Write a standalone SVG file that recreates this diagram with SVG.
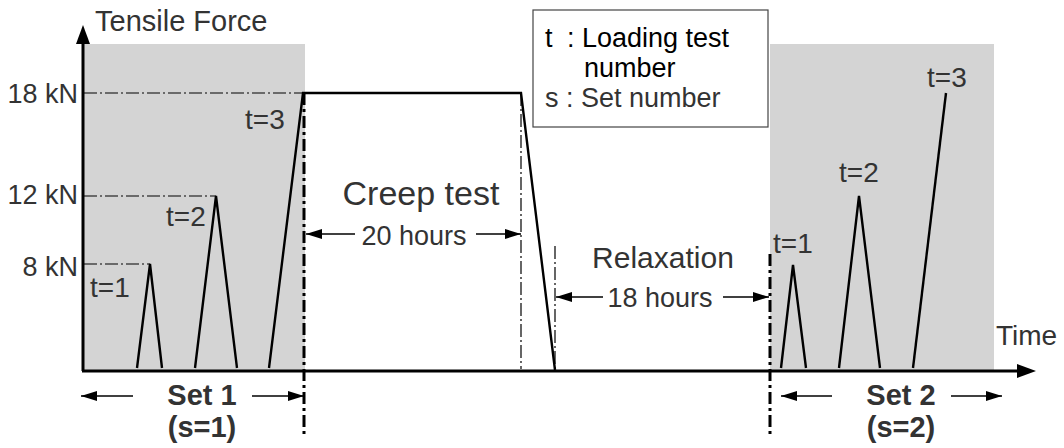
<svg xmlns="http://www.w3.org/2000/svg" width="1064" height="448" viewBox="0 0 1064 448">
<defs>
<style>
text{font-family:"Liberation Sans",Arial,sans-serif;fill:#333}
.lbl{font-size:27px}
.t{font-size:28px}
.b{font-weight:bold;font-size:29px}
.curve{fill:none;stroke:#000;stroke-width:2.4;stroke-linejoin:miter}
.thin{fill:none;stroke:#000;stroke-width:1.2;stroke-dasharray:13 3 2 3}
.thick{fill:none;stroke:#000;stroke-width:3;stroke-dasharray:12 4 3 4}
.dim{fill:none;stroke:#000;stroke-width:1.3}
.shade{fill:#d4d4d4}
</style>
<marker id="ah" viewBox="0 0 16 10" refX="16" refY="5" markerWidth="16" markerHeight="10" markerUnits="userSpaceOnUse" orient="auto-start-reverse">
<path d="M0,0 L16,5 L0,10 Z" fill="#000"/>
</marker>
</defs>
<rect width="1064" height="448" fill="#fff"/>
<g id="set1-area"><rect class="shade" x="84" y="44" width="221" height="327"/></g>
<g id="set2-area"><rect class="shade" x="770" y="44" width="224" height="327"/></g>
<g id="guides">
<line class="thin" x1="84" y1="93" x2="303" y2="93"/>
<line class="thin" x1="84" y1="196" x2="216" y2="196"/>
<line class="thin" x1="84" y1="264" x2="150" y2="264"/>
<line class="thin" x1="521" y1="93" x2="521" y2="369"/>
<line class="thin" x1="555" y1="246" x2="555" y2="369"/>
<line class="thick" x1="304" y1="93" x2="304" y2="438"/>
<line class="thick" x1="770" y1="254" x2="770" y2="438"/>
</g>
<g id="axes">
<line x1="83" y1="371" x2="83" y2="42" stroke="#000" stroke-width="3"/>
<path d="M76,44 L83,25 L90,44 Z" fill="#000"/>
<line x1="82" y1="371" x2="1019" y2="371" stroke="#000" stroke-width="3"/>
<path d="M1017,364 L1036,371 L1017,378 Z" fill="#000"/>
<text x="95" y="31" font-size="29">Tensile Force</text>
<text class="t" x="996" y="345">Time</text>
<text class="lbl" x="78" y="103" text-anchor="end">18 kN</text>
<text class="lbl" x="78" y="204" text-anchor="end">12 kN</text>
<text class="lbl" x="78" y="276" text-anchor="end">8 kN</text>
</g>
<g id="loading-curves">
<polyline class="curve" points="137,368 150,264 162,368"/>
<polyline class="curve" points="195,368 216,196 237,368"/>
<polyline class="curve" points="269,368 303,93 521,93 555,370"/>
<polyline class="curve" points="781,368 793,265 806,368"/>
<polyline class="curve" points="839,368 859,196 880,368"/>
<polyline class="curve" points="913,368 946,93"/>
</g>
<g id="t-labels">
<text class="t" x="90" y="297">t=1</text>
<text class="t" x="166" y="226">t=2</text>
<text class="t" x="245" y="129">t=3</text>
<text class="t" x="773" y="253">t=1</text>
<text class="t" x="839" y="182">t=2</text>
<text class="t" x="927" y="87">t=3</text>
</g>
<g id="creep">
<text x="421" y="205" text-anchor="middle" font-size="34">Creep test</text>
<text x="414" y="245" text-anchor="middle" font-size="27">20 hours</text>
</g>
<g id="relaxation">
<text x="663" y="268" text-anchor="middle" font-size="30">Relaxation</text>
<text x="660" y="307" text-anchor="middle" font-size="27">18 hours</text>
</g>
<g id="set1-label">
<text class="b" x="202" y="405" text-anchor="middle">Set 1</text>
<text class="b" x="202" y="437" text-anchor="middle">(s=1)</text>
</g>
<g id="set2-label">
<text class="b" x="901" y="405" text-anchor="middle">Set 2</text>
<text class="b" x="901" y="437" text-anchor="middle">(s=2)</text>
</g>
<g id="connectors">
<line class="dim" x1="355" y1="234" x2="306" y2="234" marker-end="url(#ah)"/>
<line class="dim" x1="476" y1="234" x2="521" y2="234" marker-end="url(#ah)"/>
<line class="dim" x1="603" y1="297" x2="556" y2="297" marker-end="url(#ah)"/>
<line class="dim" x1="723" y1="297" x2="769" y2="297" marker-end="url(#ah)"/>
<line class="dim" x1="133" y1="396" x2="81" y2="396" marker-end="url(#ah)"/>
<line class="dim" x1="252" y1="396" x2="304" y2="396" marker-end="url(#ah)"/>
<line class="dim" x1="832" y1="396" x2="781" y2="396" marker-end="url(#ah)"/>
<line class="dim" x1="951" y1="396" x2="1002" y2="396" marker-end="url(#ah)"/>
</g>
<g id="legend">
<rect x="533" y="10" width="235" height="117" fill="#fff" stroke="#444" stroke-width="1.2"/>
<text class="lbl" x="545" y="47" style="fill:#000">t</text>
<text class="lbl" x="567" y="47" style="fill:#000">: Loading test</text>
<text class="lbl" x="584" y="77" style="fill:#000">number</text>
<text class="lbl" x="545" y="107">s : Set number</text>
</g>
</svg>
